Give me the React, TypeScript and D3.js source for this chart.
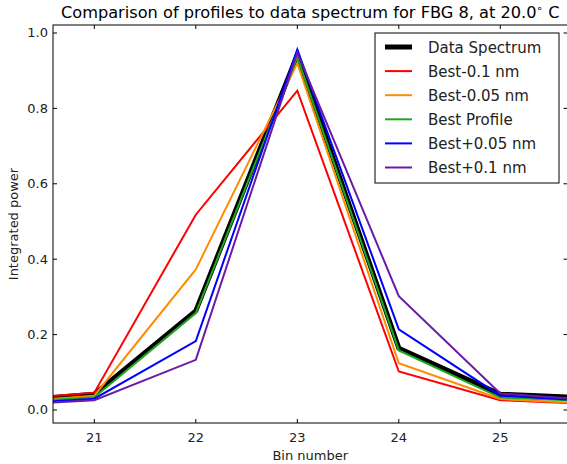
import React from "react";
import * as d3 from "d3";

const bins = [20, 21, 22, 23, 24, 25, 26];
const dataSpectrum = [0.020, 0.042, 0.263, 0.942, 0.164, 0.042, 0.031];
const bestMinus01 = [0.024, 0.046, 0.518, 0.847, 0.102, 0.026, 0.015];
const bestMinus005 = [0.018, 0.038, 0.373, 0.920, 0.124, 0.029, 0.015];
const bestProfile = [0.017, 0.034, 0.257, 0.936, 0.158, 0.033, 0.022];
const bestPlus005 = [0.013, 0.030, 0.183, 0.956, 0.214, 0.038, 0.023];
const bestPlus01 = [0.011, 0.026, 0.133, 0.948, 0.302, 0.044, 0.024];

const seriesNames = ["Data Spectrum", "Best-0.1 nm", "Best-0.05 nm", "Best Profile", "Best+0.05 nm", "Best+0.1 nm"];
const seriesColors = ["#000000", "#ff0000", "#ff8c00", "#1fa81f", "#0000ff", "#6a1aa8"];
const seriesWidths = [5, 2, 2, 2, 2, 2];
const seriesValues = [dataSpectrum, bestMinus01, bestMinus005, bestProfile, bestPlus005, bestPlus01];

const xTicks = [21, 22, 23, 24, 25];
const yTicks = [0.0, 0.2, 0.4, 0.6, 0.8, 1.0];
const titleText = "Comparison of profiles to data spectrum for FBG 8, at 20.0";
const xLabel = "Bin number";
const yLabel = "Integrated power";

const W = 567, H = 464;
const L = 53, R = 567.5, T = 25, B = 423;
const font = "DejaVu Sans, sans-serif";

export default function App() {
  const x = d3.scaleLinear().domain([20.593, 25.662]).range([L, R]);
  const y = d3.scaleLinear().domain([-0.0345, 1.0212]).range([B, T]);
  const line = d3.line<number>().x((_, i) => x(bins[i])).y((d) => y(d));
  const legX = 375, legY = 33, legW = 184, legH = 150;
  return (
    <svg width={W} height={H} style={{ position: "absolute", left: 0, top: 0 }} fontFamily={font}>
      <rect x={0} y={0} width={W} height={H} fill="#fff" />
      <defs>
        <clipPath id="plotclip">
          <rect x={L} y={T} width={R - L} height={B - T} />
        </clipPath>
      </defs>
      <g clipPath="url(#plotclip)">
        {seriesValues.map((vals, k) => (
          <path key={k} d={line(vals) || ""} fill="none" stroke={seriesColors[k]} strokeWidth={seriesWidths[k]} strokeLinejoin="miter" />
        ))}
      </g>
      <rect x={L} y={T} width={R - L} height={B - T} fill="none" stroke="#000" strokeWidth={1} />
      {xTicks.map((t) => (
        <g key={"x" + t}>
          <line x1={x(t)} x2={x(t)} y1={B} y2={B - 4} stroke="#000" />
          <line x1={x(t)} x2={x(t)} y1={T} y2={T + 4} stroke="#000" />
          <text x={x(t)} y={442} textAnchor="middle" fontSize={13} fill="#222">{t}</text>
        </g>
      ))}
      {yTicks.map((t) => (
        <g key={"y" + t}>
          <line x1={L} x2={L + 4} y1={y(t)} y2={y(t)} stroke="#000" />
          <line x1={R} x2={R - 4} y1={y(t)} y2={y(t)} stroke="#000" />
          <text x={48} y={y(t) + 4.5} textAnchor="end" fontSize={13} fill="#222">{t.toFixed(1)}</text>
        </g>
      ))}
      <text x={(L + R) / 2} y={460} textAnchor="middle" fontSize={13} fill="#222">{xLabel}</text>
      <text transform={`translate(18,${(T + B) / 2}) rotate(-90)`} textAnchor="middle" fontSize={13} fill="#222">{yLabel}</text>
      <text x={(L + R) / 2} y={18} textAnchor="middle" fontSize={16.2} fill="#000">
        {titleText}
        <tspan dy={-6} fontSize={10.5}>∘</tspan>
        <tspan dy={6}> C</tspan>
      </text>
      <rect x={legX} y={legY} width={legW} height={legH} fill="#fff" stroke="#000" strokeWidth={1} />
      {seriesNames.map((n, k) => {
        const cy = 47 + k * 24.1;
        return (
          <g key={n}>
            <line x1={385} x2={412} y1={cy} y2={cy} stroke={seriesColors[k]} strokeWidth={seriesWidths[k]} />
            <text x={428} y={cy + 5.5} fontSize={15} fill="#222">{n}</text>
          </g>
        );
      })}
    </svg>
  );
}
